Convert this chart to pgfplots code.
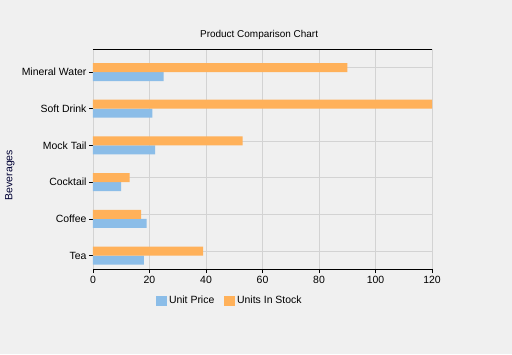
\documentclass[border=0pt]{standalone}
\usepackage{pgfplots}
\pgfplotsset{compat=1.18}
\usepackage{fontspec}
\setmainfont{Liberation Sans}
\definecolor{bgc}{HTML}{F0F0F0}
\definecolor{cblue}{HTML}{8BBDE8}
\definecolor{corange}{HTML}{FFB15A}
\definecolor{gridc}{HTML}{D3D3D3}
\pgfplotstableread{
y price stock
0 18 39
1 19 17
2 10 13
3 22 53
4 21 120
5 25 90
}\datatable
\begin{document}
\begin{tikzpicture}[x=1bp,y=1bp]
\fill[bgc] (-93,-85) rectangle (419,269);
\begin{axis}[
  at={(0,0)}, anchor=south west,
  scale only axis,
  width=339bp, height=220bp,
  xmin=0, xmax=120,
  ymin=-0.362, ymax=5.626,
  xtick={0,20,...,120},
  ytick={0,1,2,3,4,5},
  yticklabels={Tea,Coffee,Cocktail,Mock Tail,Soft Drink,Mineral Water},
  extra y ticks={0.1225,1.1225,2.1225,3.1225,4.1225,5.1225},
  extra y tick labels={},
  extra y tick style={ymajorgrids=true, major tick length=0pt},
  xtick pos=bottom, ytick pos=left,
  tick align=outside,
  major tick length=4bp,
  tick style={black, line width=0.8pt},
  separate axis lines,
  x axis line style={black, line width=1pt},
  y axis line style={draw=none},
  xmajorgrids=true,
  major grid style={gridc, line width=0.8pt},
  font=\fontsize{10.5}{12}\selectfont,
  /pgf/number format/assume math mode=true,
  tick label style={font=\fontsize{10.5}{12}\selectfont, text=black},
  yticklabel style={xshift=1bp},
  title={Product Comparison Chart},
  title style={at={(axis description cs:0.49,1.037)}, anchor=center, font=\fontsize{10}{12}\selectfont},
  ylabel={Beverages},
  ylabel style={at={(axis description cs:-0.245,0.427)}, anchor=center, rotate=0, font=\fontsize{10.5}{12}\selectfont, color=black!80!blue},
  legend style={at={(axis description cs:0.404,-0.145)}, anchor=center, draw=none, fill=none,
    legend columns=2, font=\fontsize{10.5}{12}\selectfont,
    /tikz/every even column/.append style={column sep=8bp}},
  legend image code/.code={\fill[#1] (0cm,-0.18cm) rectangle (0.38cm,0.18cm);},
]
\addplot[xbar, bar width=9bp, bar shift=-4.5bp, fill=cblue, draw=none] table[x=price,y=y]{\datatable};
\addlegendentry{Unit Price}
\addplot[xbar, bar width=9bp, bar shift=4.5bp, fill=corange, draw=none] table[x=stock,y=y]{\datatable};
\addlegendentry{Units In Stock}
\end{axis}
\end{tikzpicture}
\end{document}
